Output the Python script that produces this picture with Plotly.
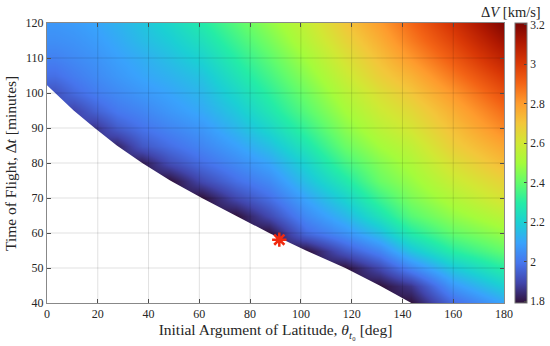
import plotly.graph_objects as go

# ---- data ----
theta_nodes = [3.3, 10.5, 18.8, 27.5, 37.5, 48.5, 61, 74.5, 87.5, 102, 117.5, 131, 143.5, 160, 180]
dt_nodes = [40, 45, 50, 55, 60, 65, 70, 75, 80, 85, 90, 95, 100, 105, 110, 115, 120]
N = None
# Delta-V [km/s] for each theta column, rows follow dt_nodes (None = infeasible)
dv_columns = [
    [N]*12 + [1.92, 1.98, 2.02, 2.05, 2.07],
    [N]*11 + [1.89, 1.97, 2.01, 2.04, 2.06, 2.08],
    [N]*10 + [1.86, 1.95, 2.01, 2.04, 2.06, 2.08, 2.10],
    [N]*9 + [1.83, 1.94, 2.00, 2.04, 2.07, 2.09, 2.11, 2.13],
    [N]*8 + [1.81, 1.93, 1.99, 2.03, 2.07, 2.10, 2.12, 2.15, 2.17],
    [N]*7 + [1.79, 1.91, 1.98, 2.03, 2.07, 2.10, 2.13, 2.16, 2.19, 2.22],
    [N]*6 + [1.79, 1.90, 1.98, 2.03, 2.07, 2.11, 2.14, 2.17, 2.21, 2.25, 2.29],
    [N]*5 + [1.79, 1.90, 1.98, 2.04, 2.09, 2.14, 2.18, 2.22, 2.26, 2.30, 2.34, 2.38],
    [N]*4 + [1.79, 1.90, 1.98, 2.04, 2.10, 2.16, 2.22, 2.27, 2.31, 2.35, 2.39, 2.43, 2.47],
    [N]*3 + [1.79, 1.97, 2.04, 2.10, 2.16, 2.21, 2.27, 2.33, 2.38, 2.42, 2.46, 2.50, 2.54, 2.57],
    [N]*2 + [1.79, 1.93, 2.06, 2.14, 2.21, 2.28, 2.35, 2.41, 2.46, 2.50, 2.54, 2.58, 2.62, 2.66, 2.70],
    [N]*1 + [1.79, 1.90, 2.03, 2.16, 2.26, 2.34, 2.41, 2.45, 2.50, 2.55, 2.59, 2.63, 2.68, 2.72, 2.76, 2.80],
    [1.79, 1.86, 2.03, 2.17, 2.29, 2.38, 2.44, 2.48, 2.52, 2.56, 2.61, 2.65, 2.70, 2.75, 2.81, 2.86, 2.90],
    [1.97, 2.07, 2.18, 2.30, 2.40, 2.47, 2.53, 2.58, 2.63, 2.68, 2.72, 2.76, 2.81, 2.87, 2.93, 2.98, 3.03],
    [2.10, 2.20, 2.30, 2.40, 2.48, 2.55, 2.62, 2.67, 2.73, 2.78, 2.84, 2.89, 2.95, 3.01, 3.08, 3.14, 3.20],
]
# feasibility boundary (minimum time of flight)
boundary_theta = [0, 3.3, 10.5, 18.8, 27.5, 37.5, 48.5, 61, 74.5, 87.5, 102, 117.5, 131, 143.5]
boundary_dt = [102.2, 100, 95, 90, 85, 80, 75, 70, 65, 60, 55, 50, 45, 40]
# selected solution
star_theta = [91.5]
star_dt = [58.1]

x_ticks = [0, 20, 40, 60, 80, 100, 120, 140, 160, 180]
y_ticks = [40, 50, 60, 70, 80, 90, 100, 110, 120]
cb_ticks = [1.8, 2.0, 2.2, 2.4, 2.6, 2.8, 3.0, 3.2]
cb_text = ["1.8", "2", "2.2", "2.4", "2.6", "2.8", "3", "3.2"]

z = [[col[i] for col in dv_columns] for i in range(len(dt_nodes))]

FONT = "Liberation Serif"
TXT = "#262626"
STAR = "#f02a10"
TITLE_SIZE = 15.5
TICK_SIZE = 12

fig = go.Figure()
fig.add_trace(go.Heatmap(
    x=theta_nodes, y=dt_nodes, z=z, zsmooth="best",
    colorscale="Turbo", zmin=1.79, zmax=3.21,
    hoverinfo="skip",
    colorbar=dict(
        x=1.024, xanchor="left", xpad=0, y=0.5, yanchor="middle", ypad=0,
        len=1, lenmode="fraction",
        thickness=12, outlinewidth=1, outlinecolor="#777",
        ticks="inside", ticklen=3, tickcolor="#444",
        tickvals=cb_ticks, ticktext=cb_text,
        tickfont=dict(family=FONT, size=11.5, color=TXT),
    ),
))
fig.add_trace(go.Scatter(
    x=boundary_theta, y=boundary_dt, mode="lines",
    line=dict(width=0, color="white"), fill="tozeroy", fillcolor="white",
    hoverinfo="skip", showlegend=False,
))
fig.add_trace(go.Scatter(
    x=star_theta, y=star_dt, mode="markers",
    marker=dict(symbol="asterisk-open", size=12, color=STAR, line=dict(color=STAR, width=2.5)),
    hoverinfo="skip", showlegend=False,
))

shapes = []
for xv in x_ticks[1:-1]:
    shapes.append(dict(type="line", xref="x", yref="y", x0=xv, x1=xv, y0=y_ticks[0], y1=y_ticks[-1],
                       line=dict(color="rgba(0,0,0,0.12)", width=1), layer="above"))
for yv in y_ticks[1:-1]:
    shapes.append(dict(type="line", xref="x", yref="y", x0=x_ticks[0], x1=x_ticks[-1], y0=yv, y1=yv,
                       line=dict(color="rgba(0,0,0,0.12)", width=1), layer="above"))

axis_common = dict(
    showgrid=False, zeroline=False, showline=True, linecolor="#888", linewidth=1,
    mirror="ticks", ticks="inside", ticklen=4, tickcolor="#555",
    tickfont=dict(family=FONT, size=TICK_SIZE, color=TXT), layer="above traces",
)

fig.update_layout(
    width=550, height=346,
    margin=dict(l=47, r=46, t=23, b=43, autoexpand=False),
    paper_bgcolor="white", plot_bgcolor="white",
    font=dict(family=FONT, color=TXT),
    showlegend=False,
    shapes=shapes,
    xaxis=dict(range=[0, 180], tickvals=x_ticks, **axis_common,
               title=dict(text="Initial Argument of Latitude, <i>θ</i><sub><i>t</i>₀</sub> [deg]",
                          font=dict(family=FONT, size=TITLE_SIZE, color=TXT), standoff=1)),
    yaxis=dict(range=[40, 120], tickvals=y_ticks, **axis_common),
    annotations=[
        dict(text="Δ<i>V</i> [km/s]", xref="paper", yref="paper",
             x=1.015, y=1.039, xanchor="center", yanchor="middle", showarrow=False,
             font=dict(family=FONT, size=14.5, color=TXT)),
        dict(text="Time of Flight, Δ<i>t</i> [minutes]", xref="paper", yref="paper",
             x=-0.081, y=0.5, xanchor="center", yanchor="middle", textangle=-90, showarrow=False,
             font=dict(family=FONT, size=TITLE_SIZE, color=TXT)),
    ],
)

fig.write_html("out.html", config={"displayModeBar": False},
               post_script="document.body.style.margin='0';")
